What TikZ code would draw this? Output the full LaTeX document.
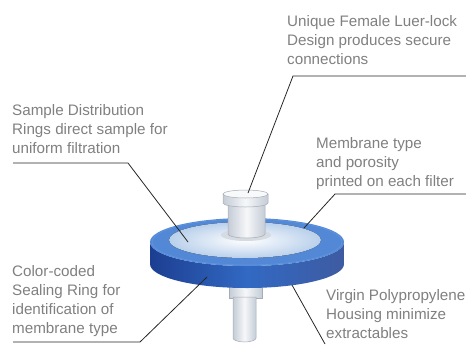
\documentclass[tikz,border=0pt]{standalone}
\usepackage{fontspec}
\newfontfamily\calloutfont{Liberation Sans}
\usetikzlibrary{positioning}
\definecolor{textgray}{RGB}{128,128,128}
\definecolor{discblue}{RGB}{50,105,195}
\definecolor{discdark}{RGB}{28,62,145}
\definecolor{disclight}{RGB}{95,150,222}
\definecolor{membraneblue}{RGB}{185,208,235}
\definecolor{tubegray}{RGB}{196,204,214}
\definecolor{tubeedge}{RGB}{165,172,182}

\begin{document}
\begin{tikzpicture}[x=1bp,y=-1bp,
  callout/.style={anchor=base west,inner sep=0pt,align=left,text=textgray,
    font=\calloutfont\fontsize{15.2bp}{18.7bp}\selectfont},
  leader/.style={draw=black!85,line width=0.8bp},
  plastic/.style={draw=tubeedge,line width=0.5bp,left color=tubegray,right color=tubegray,middle color=white!85!tubegray}]
\useasboundingbox (0,0) rectangle (466,344);

% outlet under the disc
\path[plastic] (229,280) rectangle (262,298);
\path[plastic] (233,297) -- (233,338) arc[start angle=180,end angle=0,x radius=11.5,y radius=4] -- (256,297) -- cycle;

% disc
\path[left color=discdark,right color=discdark!85!white,middle color=discblue]
  (150,242) -- (150,264) arc[start angle=180,end angle=0,x radius=97,y radius=24]
  -- (344,242) arc[start angle=0,end angle=180,x radius=97,y radius=24] -- cycle;
\fill[disclight!70!discblue] (247,242) ellipse[x radius=97,y radius=24];
\draw[disclight,line width=0.6bp] (247,242) ellipse[x radius=95,y radius=23];
\fill[inner color=white,outer color=membraneblue] (245,240) ellipse[x radius=76,y radius=18];

% luer lock on top
\fill[tubegray!70!white] (246,235) ellipse[x radius=25,y radius=6];
\path[plastic] (228,202) -- (228,234) arc[start angle=180,end angle=0,x radius=18.5,y radius=4] -- (265,202) -- cycle;
\path[plastic] (223,194) -- (223,203) arc[start angle=180,end angle=0,x radius=22.5,y radius=4] -- (268,194) -- cycle;
\draw[tubeedge,fill=white!88!tubegray,line width=0.5bp] (245.5,194) ellipse[x radius=22.5,y radius=4];

% texts (anchored at the last line)
\node[callout] (luer) at (287,64) {Unique Female Luer-lock\\Design produces secure\\connections};
\node[callout] (rings) at (12,153) {Sample Distribution\\Rings direct sample for\\uniform filtration};
\node[callout] (porosity) at (316,186) {Membrane type\\and porosity\\printed on each filter};
\node[callout] (sealing) at (12,333) {Color-coded\\Sealing Ring for\\identification of\\membrane type};
\node[callout] (housing) at (326,338) {Virgin Polypropylene\\Housing minimize\\extractables};

% leader points
\coordinate (luerend) at (466,76);
\coordinate (luerbend) at (293,76);
\coordinate (luertip) at (248,193);
\coordinate (ringsend) at (13,163);
\coordinate (ringsbend) at (128,163);
\coordinate (ringstip) at (188,242);
\coordinate (porosityend) at (466,194);
\coordinate (porositybend) at (335,194);
\coordinate (porositytip) at (304,228);
\coordinate (sealingend) at (13,342);
\coordinate (sealingbend) at (140,342);
\coordinate (sealingtip) at (207,277);
\coordinate (housingend) at (325,344);
\coordinate (housingtip) at (292,285);

\draw[leader] (luerend) -- (luerbend) -- (luertip);
\draw[leader] (ringsend) -- (ringsbend) -- (ringstip);
\draw[leader] (porosityend) -- (porositybend) -- (porositytip);
\draw[leader] (sealingend) -- (sealingbend) -- (sealingtip);
\draw[leader] (housingend) -- (housingtip);
\end{tikzpicture}
\end{document}
